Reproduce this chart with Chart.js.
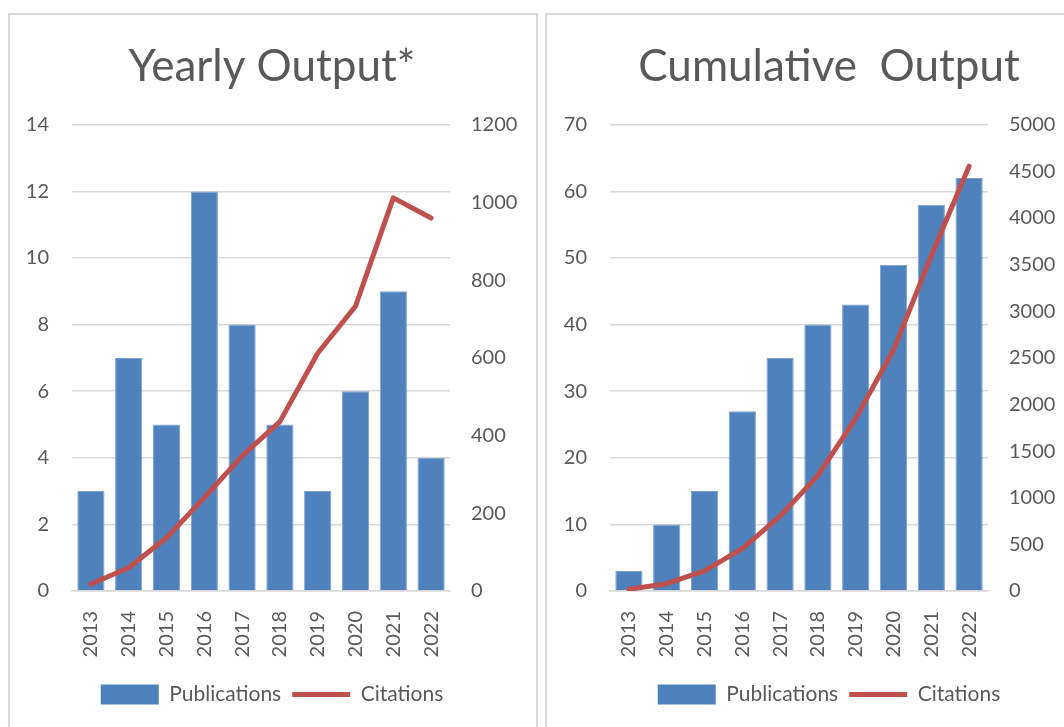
<!DOCTYPE html>
<html>
<head>
<meta charset="utf-8">
<script src="https://cdn.jsdelivr.net/npm/chart.js@4"></script>
<style>
  html, body { margin: 0; padding: 0; background: #fff; overflow: hidden; }
  body { width: 1064px; height: 727px; position: relative; }
  .panel { position: absolute; border: 2px solid #d9d9d9; box-sizing: border-box; }
  canvas { position: absolute; }
</style>
</head>
<body>
<div class="panel" style="left:8px; top:13px; width:530px; height:760px;"></div>
<div class="panel" style="left:545px; top:13px; width:580px; height:760px;"></div>
<canvas id="chart-yearly" style="left:8px; top:13px; width:528px; height:714px;"></canvas>
<canvas id="chart-cumulative" style="left:546px; top:13px; width:566px; height:714px;"></canvas>
<script>
const years = ['2013', '2014', '2015', '2016', '2017', '2018', '2019', '2020', '2021', '2022'];
const yearlyPublications = [3, 7, 5, 12, 8, 5, 3, 6, 9, 4];
const yearlyCitations = [18, 60, 137, 240, 348, 436, 612, 733, 1012, 960];
const cumulativePublications = [3, 10, 15, 27, 35, 40, 43, 49, 58, 62];
const cumulativeCitations = [18, 78, 215, 455, 803, 1239, 1851, 2584, 3596, 4556];

const textColor = '#595959';
const gridColor = '#d9d9d9';
const fontFamily = 'Lato, "Open Sans", sans-serif';

const drawOutput = (id, title, pubs, cites, leftMax, leftStep, rightMax, rightStep, rightWidth) => {
  const canvas = document.getElementById(id);
  return new Chart(canvas, {
    data: {
      labels: years,
      datasets: [
        {
          type: 'bar',
          label: 'Publications',
          data: pubs,
          backgroundColor: '#4f81bd',
          borderColor: '#7da1cf',
          borderWidth: 1,
          barPercentage: 0.72,
          categoryPercentage: 1,
          yAxisID: 'y',
          order: 2
        },
        {
          type: 'line',
          label: 'Citations',
          data: cites,
          borderColor: '#c0504d',
          backgroundColor: '#c0504d',
          borderWidth: 5,
          borderCapStyle: 'round',
          borderJoinStyle: 'round',
          pointRadius: 0,
          tension: 0,
          yAxisID: 'y1',
          order: 1
        }
      ]
    },
    options: {
      responsive: false,
      animation: false,
      layout: { padding: { top: 0, bottom: 12, left: 0, right: 0 } },
      scales: {
        x: {
          grid: { display: false },
          border: { color: gridColor, width: 1.5 },
          ticks: {
            color: textColor,
            font: { family: fontFamily, size: 20 },
            minRotation: 90,
            maxRotation: 90,
            padding: 12
          },
          afterFit: (scale) => { scale.height = 82; }
        },
        y: {
          position: 'left',
          min: 0,
          max: leftMax,
          grid: { color: gridColor, lineWidth: 1.5, drawTicks: false },
          border: { display: false },
          ticks: {
            stepSize: leftStep,
            color: textColor,
            font: { family: fontFamily, size: 20 },
            padding: 23,
            callback: (value) => String(value)
          },
          afterFit: (scale) => { scale.width = 64; }
        },
        y1: {
          position: 'right',
          min: 0,
          max: rightMax,
          grid: { display: false, drawTicks: false },
          border: { display: false },
          ticks: {
            stepSize: rightStep,
            color: textColor,
            font: { family: fontFamily, size: 20 },
            padding: 21,
            callback: (value) => String(value)
          },
          afterFit: (scale) => { scale.width = rightWidth; }
        }
      },
      plugins: {
        title: {
          display: true,
          text: title,
          color: textColor,
          font: { family: fontFamily, size: 44, weight: 'normal', lineHeight: 1.2 },
          padding: { top: 27, bottom: 32 }
        },
        legend: {
          position: 'bottom',
          labels: {
            color: textColor,
            font: { family: fontFamily, size: 21 },
            usePointStyle: true,
            pointStyleWidth: 58,
            boxHeight: 20,
            padding: 11,
            generateLabels: (chart) => {
              const items = Chart.defaults.plugins.legend.labels.generateLabels(chart);
              items.sort((a, b) => a.datasetIndex - b.datasetIndex);
              items.forEach((item) => {
                if (item.datasetIndex === 0) {
                  item.pointStyle = 'rect';
                  item.lineWidth = 0;
                } else {
                  item.pointStyle = 'line';
                  item.lineWidth = 5;
                }
              });
              return items;
            }
          }
        },
        tooltip: { enabled: false }
      }
    }
  });
};

drawOutput('chart-yearly', 'Yearly Output*', yearlyPublications, yearlyCitations, 14, 2, 1200, 200, 86);
drawOutput('chart-cumulative', 'Cumulative  Output', cumulativePublications, cumulativeCitations, 70, 10, 5000, 500, 124);
</script>
</body>
</html>
